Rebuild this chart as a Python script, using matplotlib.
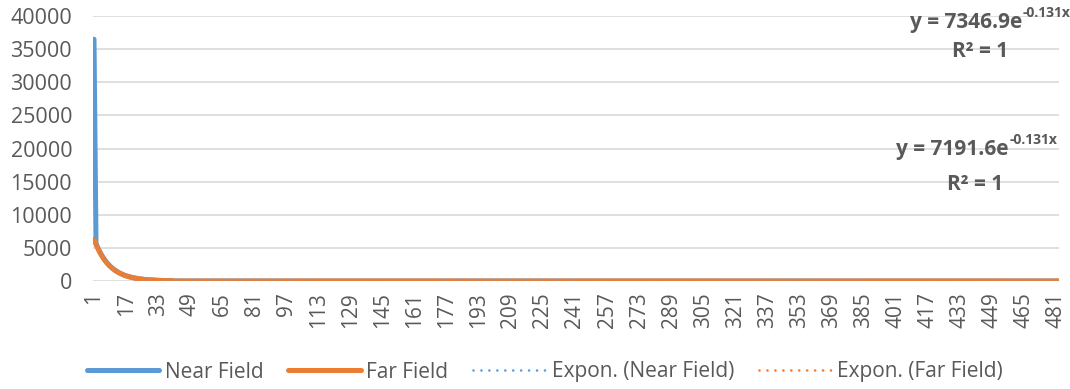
import matplotlib
matplotlib.use("Agg")
import matplotlib.pyplot as plt
import numpy as np

# ---------------- data ----------------
n_points = 482
near_head = [36500, 5650, 4960, 4350, 3820, 3350, 2940, 2580, 2260, 1980,
             1740, 1530, 1340, 1170, 1030, 900, 790, 700, 610, 540,
             470, 410, 360, 320, 280, 240, 210, 190, 160, 140,
             130, 110, 97, 86, 75, 65, 57, 50, 44, 39]
far_head = [6300, 5530, 4850, 4260, 3740, 3280, 2880, 2520, 2210, 1940,
            1700, 1490, 1310, 1150, 1010, 880, 780, 680, 600, 520,
            460, 400, 350, 310, 270, 240, 210, 180, 160, 140,
            120, 110, 95, 84, 73, 64, 56, 49, 43, 38]
tail_value = 0  # rest of both series sits on the zero line
near_field = near_head + [tail_value] * (n_points - len(near_head))
far_field = far_head + [tail_value] * (n_points - len(far_head))
categories = list(range(1, n_points + 1))
tick_labels = list(range(1, n_points + 1, 16))

# trendline coefficients shown on the chart
near_a, near_b = 7346.9, -0.131
far_a, far_b = 7191.6, -0.131
near_eq = ("y = 7346.9e", "-0.131x")
far_eq = ("y = 7191.6e", "-0.131x")
r2_text = "R² = 1"

y_ticks = list(range(0, 40001, 5000))

# ---------------- style ----------------
BLUE = "#5B9BD5"
ORANGE = "#ED7D31"
GRID = "#D9D9D9"
TXT = "#595959"
FONT = ["Open Sans", "DejaVu Sans"]
plt.rcParams["font.family"] = FONT

W, H = 1070, 389
fig = plt.figure(figsize=(W / 100, H / 100), dpi=100)
L, R, T, B = 93, 1059, 16, 281
ax = fig.add_axes([L / W, 1 - B / H, (R - L) / W, (B - T) / H])

x = np.array(categories, dtype=float)
ax.plot(x, near_field, color=BLUE, lw=3.6, solid_capstyle="round",
        solid_joinstyle="round", label="Near Field", zorder=3)
ax.plot(x, far_field, color=ORANGE, lw=3.6, solid_capstyle="round",
        solid_joinstyle="round", label="Far Field", zorder=4)

near_trend = near_a * np.exp(near_b * x)
far_trend = far_a * np.exp(far_b * x)
ax.plot(x, near_trend, color=BLUE, lw=1.9, linestyle=(0, (0.01, 3.0)),
        dash_capstyle="round", label="Expon. (Near Field)", zorder=5)
ax.plot(x, far_trend, color=ORANGE, lw=1.9, linestyle=(0, (0.01, 3.0)),
        dash_capstyle="round", label="Expon. (Far Field)", zorder=5)

ax.set_ylim(0, 40000)
ax.set_xlim(0.5, n_points + 0.5)
ax.set_yticks(y_ticks)
ax.set_xticks(tick_labels)
ax.set_xticklabels([str(t) for t in tick_labels], rotation=90, fontsize=15,
                   color=TXT, va="top")
ax.tick_params(axis="y", length=0, pad=15, labelsize=15.5, labelcolor=TXT)
ax.tick_params(axis="x", length=0, pad=8)
ax.grid(axis="y", color=GRID, lw=1.2, zorder=0)
ax.set_axisbelow(True)
for s in ax.spines.values():
    s.set_visible(False)

# trendline equation labels (pixel positions -> figure fraction)
def fx(px):
    return px / W

def fy(py):
    return 1 - py / H

def eq_label(eq, x_split, base_y):
    fig.text(fx(x_split), fy(base_y), eq[0], ha="right", va="baseline",
             fontsize=15, fontweight="bold", color=TXT)
    fig.text(fx(x_split + 1), fy(base_y - 11), eq[1], ha="left",
             va="baseline", fontsize=10, fontweight="bold", color=TXT)

eq_label(near_eq, 1022, 28)
fig.text(fx(980), fy(57), r2_text, ha="center", va="baseline",
         fontsize=15, fontweight="bold", color=TXT)
eq_label(far_eq, 1009, 155)
fig.text(fx(975), fy(190), r2_text, ha="center", va="baseline",
         fontsize=15, fontweight="bold", color=TXT)

leg = fig.legend(loc="center", bbox_to_anchor=(0.509, 1 - 372 / H), ncol=4,
                 frameon=False, fontsize=15, handlelength=3.5,
                 handletextpad=0.25, columnspacing=1.2)
for t in leg.get_texts():
    t.set_color(TXT)

fig.savefig("out.png", dpi=100)
